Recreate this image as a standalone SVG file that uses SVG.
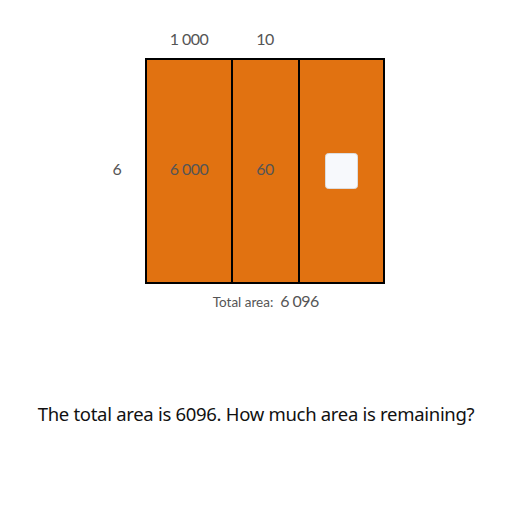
<svg xmlns="http://www.w3.org/2000/svg" width="512" height="512" viewBox="0 0 512 512">
<style>
.lbl{font-family:Lato,"Liberation Sans",sans-serif;font-size:16px;fill:#555;text-anchor:middle;letter-spacing:-0.5px}
.cell{fill:#e17211;stroke:#000;stroke-width:2}
</style>
<rect width="512" height="512" fill="#fff"/>
<g id="cells">
<rect class="cell" x="146" y="59" width="86" height="224"/>
<rect class="cell" x="232" y="59" width="67" height="224"/>
<rect class="cell" x="299" y="59" width="85" height="224"/>
</g>
<g id="labels">
<text class="lbl" x="189" y="45">1 000</text>
<text class="lbl" x="265" y="45">10</text>
<text class="lbl" x="117" y="175">6</text>
<text class="lbl" x="189" y="175">6 000</text>
<text class="lbl" x="265" y="175">60</text>
</g>
<rect id="blank" x="325.5" y="153.5" width="32" height="35" rx="3" fill="#f7f9fc" stroke="#ddd" stroke-width="1"/>
<g id="total">
<text x="243" y="307" font-family="Lato,'Liberation Sans',sans-serif" font-size="13.5" fill="#555" text-anchor="middle">Total area:</text>
<text class="lbl" x="299.5" y="307">6 096</text>
</g>
<text x="256" y="421" font-family="'Noto Sans','Open Sans',sans-serif" font-size="18.5" fill="#111" text-anchor="middle" letter-spacing="-0.3">The total area is 6096. How much area is remaining?</text>
</svg>
